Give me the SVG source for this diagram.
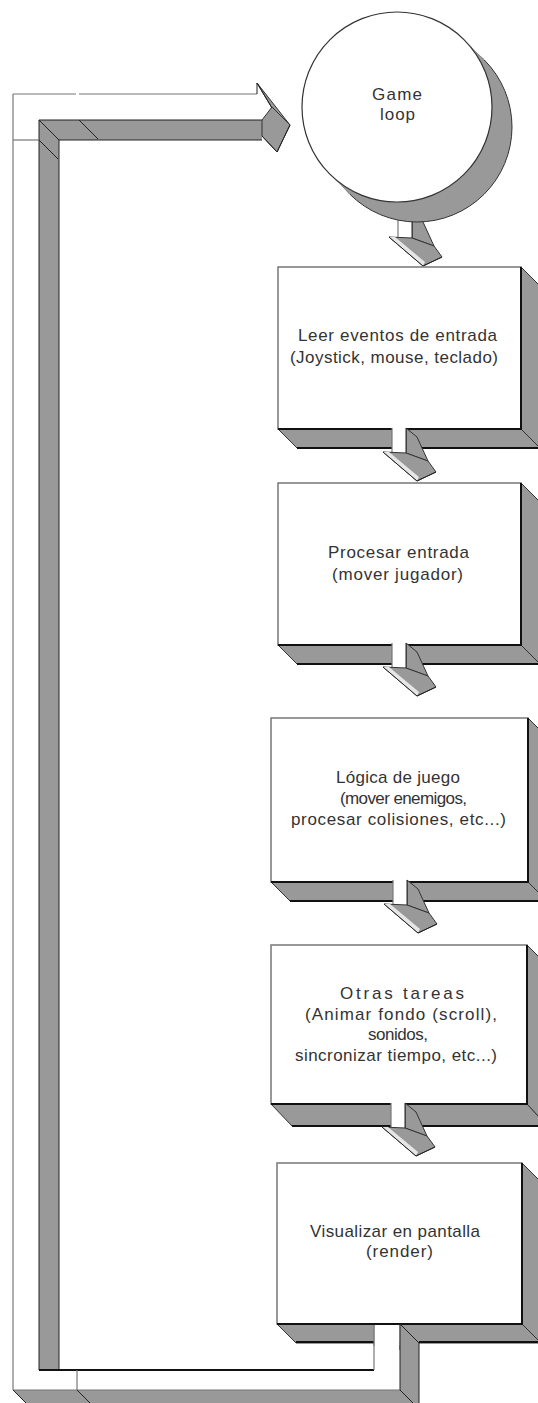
<svg xmlns="http://www.w3.org/2000/svg" xmlns:xlink="http://www.w3.org/1999/xlink" width="538" height="1403" viewBox="0 0 538 1403">
<style>
.side{fill:#999;stroke:#333;stroke-width:1;stroke-linejoin:round}
.front{fill:#fff;stroke:#777;stroke-width:1.5}
.edge{fill:none;stroke:#111;stroke-width:2}
.thin{fill:none;stroke:#222;stroke-width:1}
.lite{fill:none;stroke:#777;stroke-width:1.2}
.white{fill:#fff;stroke:none}
.gray{fill:#999;stroke:none}
text{font-family:"Liberation Sans",Arial,sans-serif;font-size:17px;fill:#333}
</style>
<defs>
<g id="sarrow">
<polygon class="side" points="14,-25 25,-16 36,8 14,0"/>
<rect class="white" x="0" y="-25" width="14" height="25"/>
<line class="lite" x1="0" y1="-25" x2="0" y2="-1"/>
<line class="thin" x1="14" y1="-25" x2="14" y2="0"/>
<polygon class="side" points="-9,-1 14,0 36,8 44,19 25,28"/>
<polygon fill="#e6e6e6" points="-9,-1 -3,-1 27,24 25,28"/>
<polyline class="thin" points="-9,-1 25,28 44,19" stroke-width="1.5"/>
</g>
</defs>

<g id="connectors">
<polygon class="white" points="13,94 257,94 257,83 272,108 262,120 39,120 39,1370 374,1370 374,1324 400,1324 400,1390 13,1390"/>
<polygon class="gray" points="39,120 262,120 262,140 59,140"/>
<polygon class="gray" points="39,120 59,140 59,1370 39,1370"/>
<polygon class="gray" points="13,1390 400,1390 420,1410 33,1410"/>
<polygon class="gray" points="400,1324 419,1343 419,1410 400,1410"/>
<line class="lite" x1="13" y1="94" x2="76" y2="94"/>
<line class="lite" x1="79" y1="94" x2="257" y2="94"/>
<line class="lite" x1="13" y1="94" x2="13" y2="1390"/>
<line class="lite" x1="13" y1="1390" x2="400" y2="1390"/>
<line class="thin" x1="39" y1="120" x2="262" y2="120"/>
<line class="thin" x1="59" y1="140" x2="262" y2="140"/>
<line class="thin" x1="39" y1="120" x2="39" y2="1370"/>
<line class="thin" x1="59" y1="140" x2="59" y2="1370"/>
<line class="edge" x1="39" y1="1370" x2="374" y2="1370" stroke-width="1.5"/>
<line class="lite" x1="374" y1="1326" x2="374" y2="1370"/>
<line class="thin" x1="400" y1="1324" x2="400" y2="1390" stroke-width="1.5"/>
<line class="thin" x1="39" y1="120" x2="59" y2="140"/>
<line class="thin" x1="79" y1="120" x2="98" y2="139"/>
<line class="lite" x1="13" y1="140" x2="39" y2="140"/>
<line class="thin" x1="39" y1="140" x2="58" y2="159"/>
<line class="lite" x1="77" y1="1370" x2="77" y2="1390"/>
<line class="thin" x1="13" y1="1390" x2="27" y2="1404"/>
<line class="thin" x1="77" y1="1390" x2="90" y2="1403"/>
<line class="thin" x1="400" y1="1390" x2="413" y2="1403"/>
<line class="thin" x1="257" y1="83" x2="257" y2="94" stroke-width="1.5"/>
<polygon class="side" points="257,83 290,125 272,108"/>
<polygon class="side" points="272,107 290,125 277,152 262,136 262,120"/>
<polyline class="thin" points="262,136 277,152 290,125" stroke-width="1.5"/>
<line class="thin" x1="257" y1="83" x2="272" y2="108" stroke-width="1.5"/>
<use xlink:href="#sarrow" x="398" y="238"/>
</g>

<g id="game-loop">
<circle cx="417" cy="127" r="95" class="side"/>
<polygon class="gray" points="464.2,39.8 484.2,59.8 349.8,194.2 329.8,174.2"/>
<circle cx="397" cy="107" r="95" fill="#fff" stroke="#333" stroke-width="1.2"/>
<text x="372" y="100" textLength="50" lengthAdjust="spacing">Game</text>
<text x="380" y="120" textLength="35" lengthAdjust="spacing">loop</text>
</g>

<g id="box1">
<polygon class="side" points="521,267 540,286 540,448 521,429"/>
<polygon class="side" points="278,429 521,429 540,448 297,448"/>
<line class="edge" x1="297" y1="448" x2="540" y2="448"/>
<rect class="front" x="278" y="267" width="243" height="162"/>
<polyline class="edge" points="521,267 521,429 278,429"/>
<text x="298" y="340.5" textLength="199" lengthAdjust="spacing">Leer eventos de entrada</text>
<text x="290" y="362.5" textLength="208" lengthAdjust="spacing">(Joystick, mouse, teclado)</text>
</g>

<g id="box2">
<polygon class="side" points="521,483 540,502 540,664 521,645"/>
<polygon class="side" points="278,645 521,645 540,664 297,664"/>
<line class="edge" x1="297" y1="664" x2="540" y2="664"/>
<rect class="front" x="278" y="483" width="243" height="162"/>
<polyline class="edge" points="521,483 521,645 278,645"/>
<text x="328" y="558" textLength="141" lengthAdjust="spacing">Procesar entrada</text>
<text x="332" y="580" textLength="131" lengthAdjust="spacing">(mover jugador)</text>
</g>

<g id="box3">
<polygon class="side" points="528,718 547,737 547,901 528,882"/>
<polygon class="side" points="271,882 528,882 547,901 290,901"/>
<line class="edge" x1="290" y1="901" x2="547" y2="901"/>
<rect class="front" x="271" y="718" width="257" height="164"/>
<polyline class="edge" points="528,718 528,882 271,882"/>
<text x="336" y="783" textLength="124" lengthAdjust="spacing">Lógica de juego</text>
<text x="340" y="804" textLength="127" lengthAdjust="spacing">(mover enemigos,</text>
<text x="291" y="825" textLength="215" lengthAdjust="spacing">procesar colisiones, etc...)</text>
</g>

<g id="box4">
<polygon class="side" points="527,945 547,965 547,1126 527,1104"/>
<polygon class="side" points="271,1104 527,1104 547,1126 292,1126"/>
<line class="edge" x1="292" y1="1126" x2="547" y2="1126"/>
<rect class="front" x="271" y="945" width="256" height="159"/>
<polyline class="edge" points="527,945 527,1104 271,1104"/>
<text x="340" y="999" textLength="124" lengthAdjust="spacing">Otras tareas</text>
<text x="305" y="1020" textLength="192" lengthAdjust="spacing">(Animar fondo (scroll),</text>
<text x="368" y="1040" textLength="60" lengthAdjust="spacing">sonidos,</text>
<text x="295" y="1061" textLength="202" lengthAdjust="spacing">sincronizar tiempo, etc...)</text>
</g>

<g id="box5">
<polygon class="side" points="522,1163 541,1182 541,1343 522,1324"/>
<polygon class="side" points="277,1324 522,1324 541,1343 296,1343"/>
<line class="edge" x1="296" y1="1342" x2="374" y2="1342"/>
<line class="edge" x1="419" y1="1342" x2="541" y2="1342"/>
<rect class="front" x="277" y="1163" width="245" height="161"/>
<polyline class="edge" points="522,1163 522,1324 277,1324"/>
<text x="310" y="1237" textLength="170" lengthAdjust="spacing">Visualizar en pantalla</text>
<text x="366" y="1257" textLength="67" lengthAdjust="spacing">(render)</text>
</g>

<g id="connectors-small">
<use xlink:href="#sarrow" x="392" y="453"/>
<use xlink:href="#sarrow" x="392" y="668"/>
<use xlink:href="#sarrow" x="393" y="905"/>
<use xlink:href="#sarrow" x="391" y="1128"/>
<rect class="white" x="374.5" y="1325" width="25" height="20"/>
<polygon class="gray" points="400,1324 419,1343 419,1350 400,1350"/>
<line class="lite" x1="374" y1="1325" x2="374" y2="1346"/>
<line class="thin" x1="400" y1="1324" x2="400" y2="1350" stroke-width="1.5"/>
<line class="thin" x1="400" y1="1324" x2="419" y2="1343"/>
<line class="thin" x1="419" y1="1343" x2="419" y2="1403"/>
</g>
</svg>
